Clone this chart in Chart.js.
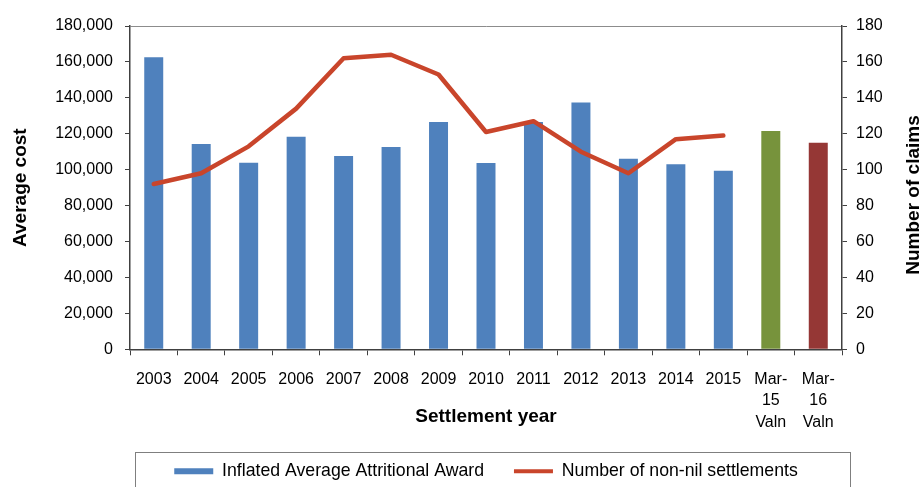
<!DOCTYPE html>
<html>
<head>
<meta charset="utf-8">
<script src="https://cdn.jsdelivr.net/npm/chart.js@4/dist/chart.umd.min.js"></script>
<style>
  body { margin: 0; background: #fff; }
  canvas { display: block; }
</style>
</head>
<body>
<canvas id="chart" width="923" height="487"></canvas>
<script>
// Datos
const years = ['2003', '2004', '2005', '2006', '2007', '2008', '2009', '2010', '2011', '2012', '2013', '2014', '2015',
    ['Mar-', '15', 'Valn'], ['Mar-', '16', 'Valn']];
const avgAward = [162600, 114300, 103900, 118300, 107600, 112600, 126500, 103700, 126500, 137400, 106100, 103000, 99400, 121500, 115000];
const settlements = [92, 98, 113, 134, 162, 164, 153, 121, 127, 110, 98, 117, 119, null, null];
const barColors = ['#4F81BD', '#4F81BD', '#4F81BD', '#4F81BD', '#4F81BD', '#4F81BD', '#4F81BD', '#4F81BD',
    '#4F81BD', '#4F81BD', '#4F81BD', '#4F81BD', '#4F81BD', '#77933C', '#953735'];
const lineColor = '#C9452B';
const axisColor = '#404040';
const FONT = 'Liberation Sans, Arial, sans-serif';

// Titulo del eje derecho (se lee de abajo hacia arriba) y borde de la leyenda
const extras = {
    id: 'extras',
    afterDraw(chart) {
        const ctx = chart.ctx;
        ctx.save();
        ctx.strokeStyle = '#7f7f7f';
        ctx.lineWidth = 1;
        ctx.strokeRect(135.5, 452.5, 715, 45);
        ctx.translate(914, 195);
        ctx.rotate(-Math.PI / 2);
        ctx.font = 'bold 19px ' + FONT;
        ctx.fillStyle = '#000';
        ctx.textAlign = 'center';
        ctx.textBaseline = 'middle';
        ctx.fillText('Number of claims', 0, 0);
        ctx.restore();
    }
};

new Chart(document.getElementById('chart'), {
    type: 'bar',
    data: {
        labels: years,
        datasets: [{
            type: 'line',
            label: 'Number of non-nil settlements',
            data: settlements,
            yAxisID: 'y1',
            borderColor: lineColor,
            backgroundColor: lineColor,
            borderWidth: 4.5,
            pointRadius: 0,
            tension: 0,
            borderJoinStyle: 'round',
            borderCapStyle: 'round',
            order: 0
        }, {
            label: 'Inflated Average Attritional Award',
            data: avgAward,
            yAxisID: 'y',
            backgroundColor: barColors,
            categoryPercentage: 1,
            barPercentage: 0.4,
            order: 1
        }]
    },
    options: {
        responsive: false,
        animation: false,
        layout: { padding: { top: 26, left: 0, right: 0, bottom: -3 } },
        plugins: {
            tooltip: { enabled: false },
            legend: {
                position: 'bottom',
                fullSize: false,
                labels: {
                    usePointStyle: true,
                    pointStyleWidth: 39,
                    boxHeight: 6,
                    padding: 30,
                    color: '#000',
                    font: { family: FONT, size: 17.7 },
                    generateLabels: () => [{
                        text: 'Inflated Average Attritional Award',
                        fillStyle: '#4F81BD',
                        strokeStyle: '#4F81BD',
                        lineWidth: 0,
                        pointStyle: 'rect',
                        datasetIndex: 1
                    }, {
                        text: 'Number of non-nil settlements',
                        fillStyle: lineColor,
                        strokeStyle: lineColor,
                        lineWidth: 4,
                        pointStyle: 'line',
                        datasetIndex: 0
                    }]
                }
            }
        },
        scales: {
            x: {
                afterFit: (s) => { s.height = 83; },
                grid: { offset: true, drawOnChartArea: false, tickLength: 6, color: axisColor },
                border: { color: axisColor, width: 1.5 },
                ticks: {
                    maxRotation: 0,
                    autoSkip: false,
                    padding: 13,
                    color: '#000',
                    font: { family: FONT, size: 16, lineHeight: 1.35 }
                },
                title: {
                    display: true,
                    text: 'Settlement year',
                    color: '#000',
                    padding: { top: 0, bottom: 4 },
                    font: { family: FONT, size: 19, weight: 'bold' }
                }
            },
            y: {
                position: 'left',
                min: 0,
                max: 180000,
                afterFit: (s) => { s.width = 130; },
                grid: {
                    color: (c) => c.tick && c.tick.value === 180000 ? '#8c8c8c' : 'rgba(0,0,0,0)',
                    tickColor: axisColor,
                    tickLength: 5
                },
                border: { color: axisColor, width: 1.5 },
                ticks: {
                    stepSize: 20000,
                    padding: 12,
                    color: '#000',
                    font: { family: FONT, size: 16 },
                    callback: (v) => v.toLocaleString('en-US')
                },
                title: {
                    display: true,
                    text: 'Average cost',
                    color: '#000',
                    padding: { top: 9, bottom: 0 },
                    font: { family: FONT, size: 19, weight: 'bold' }
                }
            },
            y1: {
                position: 'right',
                min: 0,
                max: 180,
                afterFit: (s) => { s.width = 81; },
                grid: { drawOnChartArea: false, color: axisColor, tickLength: 5 },
                border: { color: axisColor, width: 1.5 },
                ticks: {
                    stepSize: 20,
                    padding: 9,
                    color: '#000',
                    font: { family: FONT, size: 16 }
                }
            }
        }
    },
    plugins: [extras]
});
</script>
</body>
</html>
